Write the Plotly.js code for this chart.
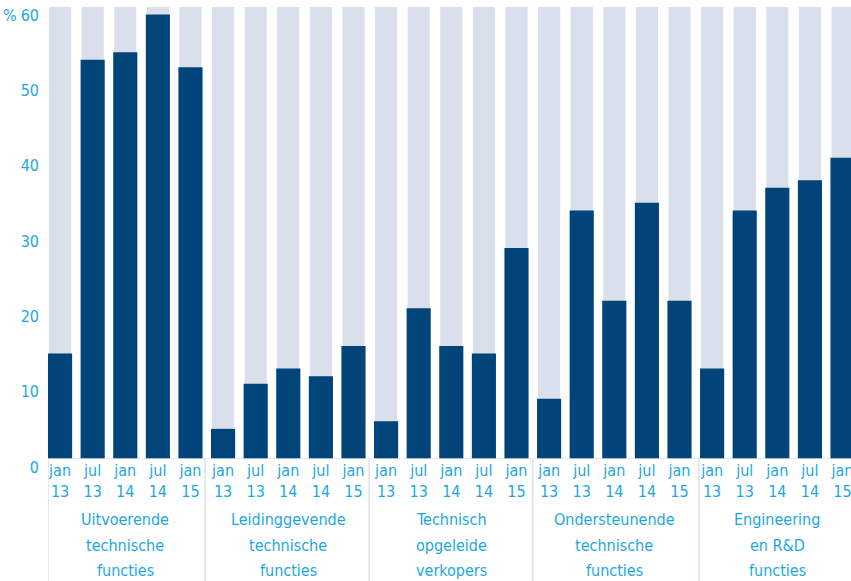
<!DOCTYPE html>
<html>
<head>
<meta charset="utf-8">
<script src="https://cdn.plot.ly/plotly-3.0.1.min.js"></script>
<style>
  html, body { margin: 0; padding: 0; background: #ffffff; }
  #chart { width: 851px; height: 581px; }
</style>
</head>
<body>
<div id="chart"></div>
<script>
// Shares per occupational group, five measurement moments each
const periods = ['jan<br>13', 'jul<br>13', 'jan<br>14', 'jul<br>14', 'jan<br>15'];
const groups = [
  'Uitvoerende<br>technische<br>functies',
  'Leidinggevende<br>technische<br>functies',
  'Technisch<br>opgeleide<br>verkopers',
  'Ondersteunende<br>technische<br>functies',
  'Engineering<br>en R&D<br>functies'
];
const uitvoerend = [14, 53, 54, 59, 52];
const leidinggevend = [4, 10, 12, 11, 15];
const verkopers = [5, 20, 15, 14, 28];
const ondersteunend = [8, 33, 21, 34, 21];
const engineering = [12, 33, 36, 37, 40];
const yMax = 60;
const yTicks = [0, 10, 20, 30, 40, 50, 60];

const series = [uitvoerend, leidinggevend, verkopers, ondersteunend, engineering];

const FONT = '"Liberation Sans Narrow", "DejaVu Sans Condensed", "Liberation Sans", sans-serif';
const FS = 16;
const TEXT = '#1ca7e2';
const DARK = '#00447a';
const LIGHT = '#dadfec';
const RULE = '#dde1ee';

const xs = [], ys = [], tickText = [];
series.forEach((vals, g) => {
  vals.forEach((v, i) => {
    xs.push(g * periods.length + i);
    ys.push(v);
    tickText.push(periods[i]);
  });
});

const background = {
  type: 'bar', x: xs, y: xs.map(() => yMax), width: 0.68,
  marker: { color: LIGHT, line: { width: 0 } },
  hoverinfo: 'skip', showlegend: false
};
const share = {
  type: 'bar', x: xs, y: ys, width: 0.74,
  marker: { color: DARK, line: { width: 0 } },
  showlegend: false
};

// group separators and group captions below the axis
const sepPos = [-0.37, 4.45, 9.48, 14.5, 19.6];
const shapes = [{
  type: 'line', xref: 'paper', yref: 'y', x0: 0, x1: 1, y0: 0, y1: 0,
  line: { color: RULE, width: 1.5 }
}];
sepPos.forEach(p => shapes.push({
  type: 'line', xref: 'x', yref: 'paper', x0: p, x1: p, y0: 0, y1: -0.27,
  line: { color: RULE, width: 1.5 }
}));

const annotations = [{
  text: '%', xref: 'paper', yref: 'paper', x: 0, y: 1.0,
  xanchor: 'center', yanchor: 'middle', xshift: -38, yshift: -8, showarrow: false,
  font: { family: FONT, size: FS, color: TEXT }
}];
const lineOffsets = [60, 86, 111];
groups.forEach((label, g) => {
  label.split('<br>').forEach((line, k) => {
    annotations.push({
      text: line, xref: 'x', yref: 'paper', x: g * periods.length + 2, y: 0,
      yanchor: 'middle', xanchor: 'center', yshift: -lineOffsets[k], showarrow: false,
      font: { family: FONT, size: FS, color: TEXT }
    });
  });
});

const layout = {
  width: 851, height: 581,
  margin: { l: 48, r: 0, t: 7, b: 122 },
  paper_bgcolor: '#ffffff', plot_bgcolor: '#ffffff',
  barmode: 'overlay',
  font: { family: FONT, size: FS, color: TEXT },
  xaxis: {
    range: [-0.37, 24.26], tickvals: xs, ticktext: tickText,
    showgrid: false, zeroline: false, showline: false, ticks: '',
    ticklabeloverflow: 'allow',
    tickfont: { family: FONT, size: FS, color: TEXT },
    fixedrange: true
  },
  yaxis: {
    range: [0, yMax], tickvals: yTicks, showgrid: false, zeroline: false,
    showline: false, ticks: '', ticklabelshift: 8, ticklabelstandoff: 8,
    ticklabeloverflow: 'allow',
    tickfont: { family: FONT, size: FS, color: TEXT },
    fixedrange: true
  },
  shapes: shapes,
  annotations: annotations
};

Plotly.newPlot('chart', [background, share], layout, { displayModeBar: false, staticPlot: true });
</script>
</body>
</html>
